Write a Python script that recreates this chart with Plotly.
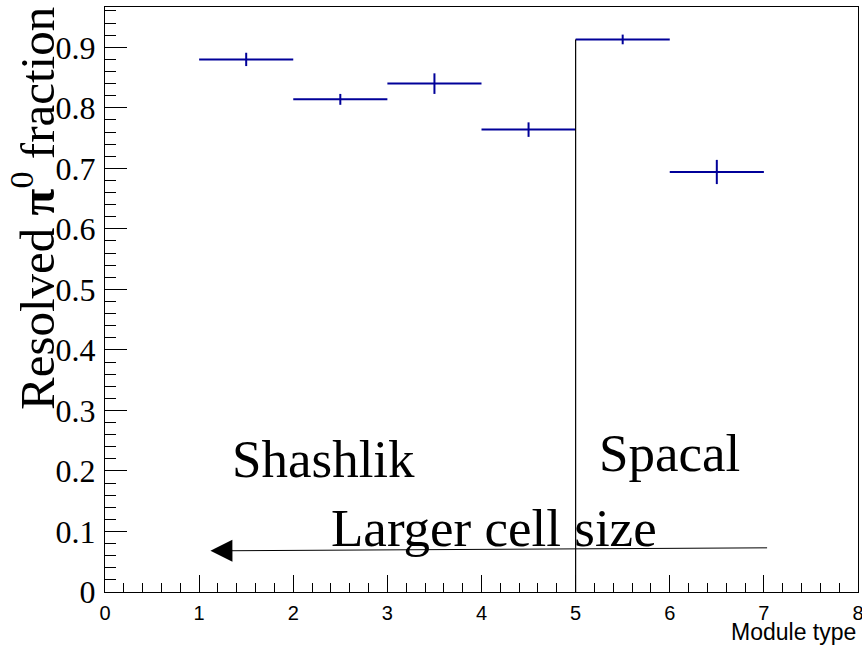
import plotly.graph_objects as go

# Module types (bin centres), resolved pi0 fraction per module type and its uncertainty
module_type = [1.5, 2.5, 3.5, 4.5, 5.5, 6.5]
bin_half_width = [0.5, 0.5, 0.5, 0.5, 0.5, 0.5]
resolved_fraction = [0.880, 0.814, 0.840, 0.764, 0.913, 0.694]
fraction_error = [0.011, 0.009, 0.017, 0.012, 0.008, 0.020]

# Boundary between the Shashlik and Spacal module families
divider_x = [5, 5]
divider_y = [0, 0.913]

# Arrow indicating the direction of increasing cell size
arrow_tail = (7.05, 0.073)
arrow_head = (1.12, 0.068)

# Region labels: (text, x, y)
labels = [
    ("Shashlik", 1.33, 0.168),
    ("Spacal", 5.23, 0.178),
    ("Larger cell size", 2.38, 0.055),
]

x_range = [0, 8]
y_range = [0, 0.9666]

HIST_COLOR = "#000099"
SERIF = "Liberation Serif, Times New Roman, serif"
SANS = "Liberation Sans, Arial, sans-serif"

fig = go.Figure()

fig.add_trace(go.Scatter(
    x=module_type,
    y=resolved_fraction,
    mode="markers",
    marker=dict(size=0.1, color=HIST_COLOR),
    error_x=dict(type="data", array=bin_half_width, width=0, thickness=2, color=HIST_COLOR),
    error_y=dict(type="data", array=fraction_error, width=0, thickness=2, color=HIST_COLOR),
    showlegend=False,
    hoverinfo="skip",
))

fig.add_trace(go.Scatter(
    x=divider_x,
    y=divider_y,
    mode="lines",
    line=dict(color="black", width=1.2),
    showlegend=False,
    hoverinfo="skip",
))

annotations = []
for text, lx, ly in labels:
    annotations.append(dict(
        text=text, x=lx, y=ly, xref="x", yref="y",
        xanchor="left", yanchor="bottom", showarrow=False,
        font=dict(family=SERIF, size=53, color="black"),
    ))

annotations.append(dict(
    x=arrow_head[0], y=arrow_head[1], ax=arrow_tail[0], ay=arrow_tail[1],
    xref="x", yref="y", axref="x", ayref="y",
    text="", showarrow=True, arrowhead=2, arrowsize=4.4, arrowwidth=1,
    arrowcolor="black", standoff=0, startstandoff=0,
))

# Axis titles
annotations.append(dict(
    text="Resolved <b>π</b><sup>0</sup> fraction",
    x=-0.094, y=0.655, xref="paper", yref="paper",
    xanchor="center", yanchor="middle", textangle=-90, showarrow=False,
    font=dict(family=SERIF, size=49, color="black"),
))
annotations.append(dict(
    text="Module type",
    x=1, y=-0.068, xref="paper", yref="paper",
    xanchor="right", yanchor="middle", showarrow=False,
    font=dict(family=SANS, size=23, color="black"),
))

fig.update_layout(
    width=862, height=646,
    margin=dict(l=105, r=4, t=7, b=54, autoexpand=False),
    paper_bgcolor="white",
    plot_bgcolor="white",
    annotations=annotations,
)

fig.update_xaxes(
    range=x_range, dtick=1, tick0=0,
    showgrid=False, zeroline=False, automargin=False,
    showline=True, mirror=True, linecolor="black", linewidth=1,
    ticks="inside", ticklen=17, tickcolor="black", tickwidth=1,
    minor=dict(ticks="inside", ticklen=9, dtick=0.2, tickcolor="black", showgrid=False),
    tickfont=dict(family=SANS, size=20, color="black"),
    ticklabelstandoff=3,
    ticklabeloverflow="allow",
)
fig.update_yaxes(
    range=y_range, dtick=0.1, tick0=0,
    showgrid=False, zeroline=False, automargin=False,
    showline=True, mirror=True, linecolor="black", linewidth=1,
    ticks="inside", ticklen=22, tickcolor="black", tickwidth=1,
    minor=dict(ticks="inside", ticklen=11, dtick=0.02, tickcolor="black", showgrid=False),
    tickfont=dict(family=SERIF, size=32, color="black"),
    ticklabelstandoff=2,
)

fig.write_html("out.html")
